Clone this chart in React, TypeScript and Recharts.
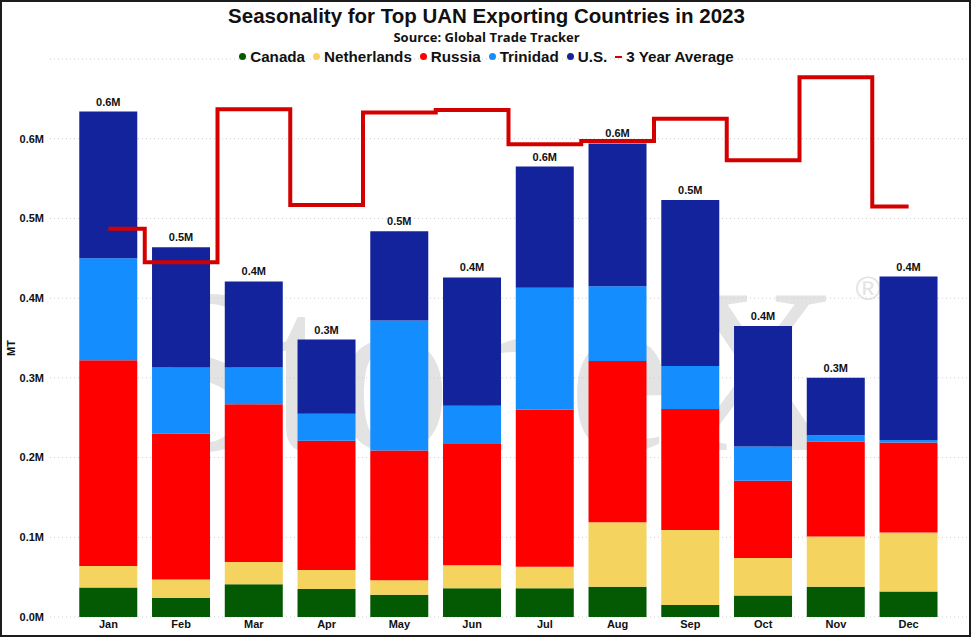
import { ComposedChart, Bar, Line, XAxis, YAxis, CartesianGrid, LabelList } from 'recharts';

// months on the x axis
const months = ["Jan", "Feb", "Mar", "Apr", "May", "Jun", "Jul", "Aug", "Sep", "Oct", "Nov", "Dec"];

// exports by country, million MT
const canada = [0.037, 0.024, 0.041, 0.035, 0.028, 0.036, 0.036, 0.038, 0.015, 0.027, 0.038, 0.032];
const netherlands = [0.027, 0.023, 0.028, 0.024, 0.018, 0.029, 0.027, 0.081, 0.094, 0.047, 0.063, 0.074];
const russia = [0.258, 0.183, 0.198, 0.162, 0.163, 0.152, 0.197, 0.202, 0.152, 0.097, 0.119, 0.113];
const trinidad = [0.128, 0.083, 0.046, 0.034, 0.163, 0.048, 0.153, 0.094, 0.054, 0.043, 0.008, 0.003];
const us = [0.184, 0.151, 0.108, 0.093, 0.112, 0.161, 0.152, 0.179, 0.208, 0.151, 0.072, 0.205];
const threeYearAvg = [0.487, 0.445, 0.637, 0.517, 0.633, 0.636, 0.593, 0.597, 0.625, 0.573, 0.677, 0.515];

const yTicks = [0, 0.1, 0.2, 0.3, 0.4, 0.5, 0.6];

const series = [
    { key: "canada", name: "Canada", color: "#035a03" },
    { key: "netherlands", name: "Netherlands", color: "#f4d35e" },
    { key: "russia", name: "Russia", color: "#ff0000" },
    { key: "trinidad", name: "Trinidad", color: "#148eff" },
    { key: "us", name: "U.S.", color: "#13239b" },
];
const avgColor = "#d40000";

const data = months.map((m, i) => ({
    month: m,
    canada: canada[i],
    netherlands: netherlands[i],
    russia: russia[i],
    trinidad: trinidad[i],
    us: us[i],
    total: canada[i] + netherlands[i] + russia[i] + trinidad[i] + us[i],
    avg: threeYearAvg[i],
}));

const fmtM = (v: any) => `${Number(v).toFixed(1)}M`;
const arial = "'Liberation Sans', Arial, sans-serif";

function MtLabel() {
    return (
        <text x={11} y={348} transform="rotate(-90 11 348)" textAnchor="middle" dominantBaseline="central"
            fontFamily={arial} fontWeight="bold" fontSize={11} fill="#111">MT</text>
    );
}

export default function App() {
    return (
        <div style={{ position: "absolute", left: 0, top: 0, width: 973, height: 638, background: "#fff", overflow: "hidden" }}>
            {/* faint logo watermark behind the chart */}
            <svg width={973} height={638} style={{ position: "absolute", left: 0, top: 0 }}>
                <text x={140} y={450} fontFamily="'Liberation Serif', 'DejaVu Serif', serif" fontSize={235}
                    fill="#e3e3e3" textLength={700} lengthAdjust="spacingAndGlyphs">StoneX</text>
                <text x={868} y={300} fontFamily={arial} fontSize={34} fill="#e3e3e3" textAnchor="middle">®</text>
            </svg>

            <ComposedChart width={973} height={638} data={data} barCategoryGap="10%"
                margin={{ top: 59, right: 6, bottom: 3, left: 0 }} style={{ position: "absolute", left: 0, top: 0 }}>
                <CartesianGrid vertical={false} stroke="#cfcfcf" strokeDasharray="1 3" />
                <XAxis dataKey="month" height={18} axisLine={false} tickLine={false} tickSize={0} tickMargin={3}
                    padding={{ left: 22, right: 22 }}
                    tick={{ fontFamily: arial, fontWeight: "bold", fontSize: 11, fill: "#111" }} />
                <YAxis width={50} domain={[0, 0.7]} ticks={yTicks} axisLine={false} tickLine={false} tickSize={0} tickMargin={6}
                    tickFormatter={fmtM} label={<MtLabel />}
                    tick={{ fontFamily: arial, fontWeight: "bold", fontSize: 11, fill: "#111" }} />
                {series.map((s) => (
                    <Bar key={s.key} dataKey={s.key} name={s.name} stackId="a" fill={s.color} isAnimationActive={false}>
                        {s.key === "us" && (
                            <LabelList dataKey="total" position="top" offset={6} formatter={fmtM}
                                style={{ fontFamily: arial, fontWeight: "bold", fontSize: 11, fill: "#111" }} />
                        )}
                    </Bar>
                ))}
                <Line type="step" dataKey="avg" name="3 Year Average" stroke={avgColor} strokeWidth={4}
                    dot={false} activeDot={false} isAnimationActive={false} />
            </ComposedChart>

            <div style={{ position: "absolute", left: 0, top: 4, width: 973, textAlign: "center", fontFamily: arial, fontWeight: "bold", fontSize: 20.5, color: "#111" }}>
                Seasonality for Top UAN Exporting Countries in 2023
            </div>
            <div style={{ position: "absolute", left: 0, top: 28, width: 973, textAlign: "center", fontFamily: "'Open Sans', sans-serif", fontWeight: "bold", fontSize: 13, color: "#111" }}>
                Source: Global Trade Tracker
            </div>
            <div style={{ position: "absolute", left: 0, top: 48, width: 973, display: "flex", justifyContent: "center", alignItems: "center", gap: 8, fontFamily: arial, fontWeight: "bold", fontSize: 15.2, color: "#111" }}>
                {series.map((s) => (
                    <span key={s.key} style={{ display: "flex", alignItems: "center", gap: 4 }}>
                        <span style={{ width: 7, height: 7, borderRadius: "50%", background: s.color, display: "inline-block" }} />
                        {s.name}
                    </span>
                ))}
                <span style={{ display: "flex", alignItems: "center", gap: 4 }}>
                    <span style={{ width: 7, height: 2, background: avgColor, display: "inline-block" }} />
                    3 Year Average
                </span>
            </div>

            <div style={{ position: "absolute", left: 0, top: 0, width: 971, height: 637, border: "2px solid #1c1c1c", boxSizing: "border-box", pointerEvents: "none" }} />
        </div>
    );
}
